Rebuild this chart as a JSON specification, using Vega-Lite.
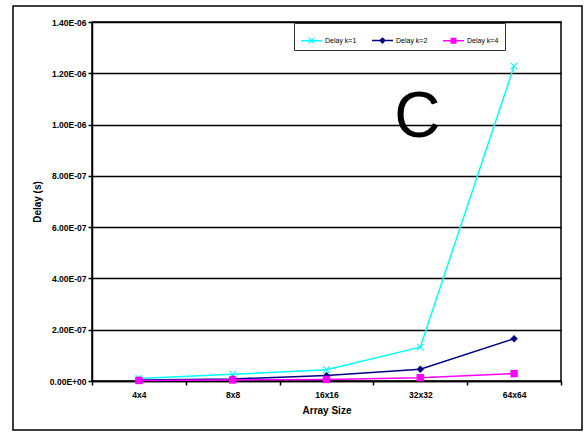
{
  "$schema": "https://vega.github.io/schema/vega-lite/v6.json",
  "width": 469,
  "height": 359,
  "autosize": {"type": "none"},
  "padding": {"left": 92, "top": 22, "right": 23, "bottom": 51},
  "background": "white",
  "config": {
    "font": "Liberation Sans",
    "view": {"stroke": "#000", "strokeWidth": 1.5},
    "legend": {"gradientVerticalMaxLength": 1000, "gradientHorizontalMaxLength": 1000}
  },
  "datasets": {
    "delays": [
      {"size": "4x4", "series": "Delay k=1", "delay": 1.0e-8},
      {"size": "8x8", "series": "Delay k=1", "delay": 2.6e-8},
      {"size": "16x16", "series": "Delay k=1", "delay": 4.4e-8},
      {"size": "32x32", "series": "Delay k=1", "delay": 1.32e-7},
      {"size": "64x64", "series": "Delay k=1", "delay": 1.228e-6},
      {"size": "4x4", "series": "Delay k=2", "delay": 4e-9},
      {"size": "8x8", "series": "Delay k=2", "delay": 8e-9},
      {"size": "16x16", "series": "Delay k=2", "delay": 2.1e-8},
      {"size": "32x32", "series": "Delay k=2", "delay": 4.55e-8},
      {"size": "64x64", "series": "Delay k=2", "delay": 1.65e-7},
      {"size": "4x4", "series": "Delay k=4", "delay": 2e-9},
      {"size": "8x8", "series": "Delay k=4", "delay": 4e-9},
      {"size": "16x16", "series": "Delay k=4", "delay": 6e-9},
      {"size": "32x32", "series": "Delay k=4", "delay": 1.3e-8},
      {"size": "64x64", "series": "Delay k=4", "delay": 2.9e-8}
    ],
    "note": [{"label": "C", "size": "32x32", "delay": 9.5e-7, "frame": 0}]
  },
  "resolve": {"scale": {"color": "independent", "shape": "independent", "stroke": "independent"}},
  "layer": [
    {
      "data": {"name": "delays"},
      "mark": {"type": "line", "strokeWidth": 1.5},
      "encoding": {
        "x": {
          "field": "size",
          "type": "nominal",
          "sort": ["4x4", "8x8", "16x16", "32x32", "64x64"],
          "scale": {"paddingInner": 0, "paddingOuter": 0},
          "axis": {
            "title": "Array Size",
            "titleFont": "Liberation Sans",
            "titleFontSize": 10,
            "titleFontWeight": "bold",
            "titleColor": "#000",
            "titlePadding": 7,
            "labelAngle": 0,
            "labelFont": "Liberation Sans",
            "labelFontSize": 8.5,
            "labelFontWeight": "bold",
            "labelColor": "#000",
            "labelPadding": 5,
            "tickBand": "extent",
            "ticks": true,
            "tickSize": 4,
            "tickColor": "#000",
            "tickWidth": 1.5,
            "domainColor": "#000",
            "domainWidth": 1.5,
            "grid": false
          }
        },
        "y": {
          "field": "delay",
          "type": "quantitative",
          "scale": {"domain": [0, 1.4e-6], "nice": false},
          "axis": {
            "title": "Delay (s)",
            "titleFont": "Liberation Sans",
            "titleFontSize": 10,
            "titleFontWeight": "bold",
            "titleColor": "#000",
            "titlePadding": 7,
            "values": [0, 2e-7, 4e-7, 6e-7, 8e-7, 1e-6, 1.2e-6, 1.4e-6],
            "labelExpr": "replace(replace(format(datum.value, '.2e'), 'e-', 'E-0'), 'e+', 'E+0')",
            "labelFont": "Liberation Sans",
            "labelFontSize": 8.5,
            "labelFontWeight": "bold",
            "labelColor": "#000",
            "labelPadding": 2,
            "tickSize": 4,
            "tickColor": "#000",
            "tickWidth": 1.5,
            "domainColor": "#000",
            "domainWidth": 1.5,
            "grid": true,
            "gridColor": "#000",
            "gridWidth": 1.5,
            "gridOpacity": 1
          }
        },
        "color": {
          "field": "series",
          "type": "nominal",
          "scale": {"domain": ["Delay k=1", "Delay k=2", "Delay k=4"], "range": ["#00FFFF", "#000080", "#FF00FF"]},
          "legend": null
        }
      }
    },
    {
      "data": {"name": "delays"},
      "mark": {"type": "point", "filled": true, "opacity": 1, "size": 55},
      "encoding": {
        "x": {"field": "size", "type": "nominal", "sort": ["4x4", "8x8", "16x16", "32x32", "64x64"]},
        "y": {"field": "delay", "type": "quantitative"},
        "color": {
          "field": "series",
          "type": "nominal",
          "scale": {"domain": ["Delay k=1", "Delay k=2", "Delay k=4"], "range": ["#00FFFF", "#000080", "#FF00FF"]},
          "legend": null
        },
        "shape": {
          "field": "series",
          "type": "nominal",
          "scale": {
            "domain": ["Delay k=1", "Delay k=2", "Delay k=4"],
            "range": ["M-1,-0.8L-0.8,-1L0,-0.2L0.8,-1L1,-0.8L0.2,0L1,0.8L0.8,1L0,0.2L-0.8,1L-1,0.8L-0.2,0Z", "diamond", "square"]
          },
          "legend": null
        }
      }
    },
    {
      "data": {"name": "delays"},
      "transform": [{"filter": "false"}],
      "mark": {"type": "point", "filled": true, "opacity": 1},
      "encoding": {
        "x": {"field": "size", "type": "nominal", "sort": ["4x4", "8x8", "16x16", "32x32", "64x64"]},
        "y": {"field": "delay", "type": "quantitative"},
        "color": {
          "field": "series",
          "type": "nominal",
          "scale": {"domain": ["Delay k=1", "Delay k=2", "Delay k=4"], "range": ["#00FFFF", "#000080", "#FF00FF"]},
          "legend": {
            "title": null,
            "orient": "none",
            "legendX": 202,
            "legendY": 1,
            "direction": "horizontal",
            "strokeColor": "#333",
            "fillColor": "white",
            "padding": 6,
            "columnPadding": 14,
            "symbolSize": 441,
            "labelFont": "Liberation Sans",
            "labelFontSize": 7,
            "labelColor": "#000",
            "labelOffset": 2
          }
        },
        "shape": {
          "field": "series",
          "type": "nominal",
          "scale": {
            "domain": ["Delay k=1", "Delay k=2", "Delay k=4"],
            "range": [
              "M-1,-0.07H1V0.07H-1ZM-0.3,-0.22L-0.22,-0.3L0,-0.08L0.22,-0.3L0.3,-0.22L0.08,0L0.3,0.22L0.22,0.3L0,0.08L-0.22,0.3L-0.3,0.22L-0.08,0Z",
              "M-1,-0.07H1V0.07H-1ZM0,-0.32L0.32,0L0,0.32L-0.32,0Z",
              "M-1,-0.07H1V0.07H-1ZM-0.28,-0.28H0.28V0.28H-0.28Z"
            ]
          },
          "legend": {
            "title": null,
            "orient": "none",
            "legendX": 202,
            "legendY": 1,
            "direction": "horizontal",
            "strokeColor": "#333",
            "fillColor": "white",
            "padding": 6,
            "columnPadding": 14,
            "symbolSize": 441,
            "labelFont": "Liberation Sans",
            "labelFontSize": 7,
            "labelColor": "#000",
            "labelOffset": 2
          }
        }
      }
    },
    {
      "data": {"name": "note"},
      "mark": {"type": "text", "font": "Liberation Sans", "fontSize": 64, "baseline": "alphabetic", "align": "center", "dx": -3, "fill": "#000"},
      "encoding": {
        "x": {"field": "size", "type": "nominal", "sort": ["4x4", "8x8", "16x16", "32x32", "64x64"]},
        "y": {"field": "delay", "type": "quantitative"},
        "text": {"field": "label"}
      }
    },
    {
      "data": {"name": "note"},
      "mark": {"type": "text", "text": "", "fontSize": 1},
      "encoding": {
        "x": {"field": "size", "type": "nominal", "sort": ["4x4", "8x8", "16x16", "32x32", "64x64"]},
        "y": {"field": "delay", "type": "quantitative"},
        "stroke": {
          "field": "frame",
          "type": "quantitative",
          "scale": {"domain": [0, 1], "range": ["rgba(255,255,255,0)", "rgba(255,255,255,0)"]},
          "legend": {
            "type": "gradient",
            "title": null,
            "orient": "none",
            "legendX": -79,
            "legendY": -16,
            "direction": "vertical",
            "padding": 0,
            "gradientLength": 424,
            "gradientThickness": 569,
            "gradientStrokeColor": "#000",
            "gradientStrokeWidth": 1.5,
            "labelOpacity": 0,
            "labelFontSize": 1,
            "tickCount": 2
          }
        }
      }
    }
  ]
}
